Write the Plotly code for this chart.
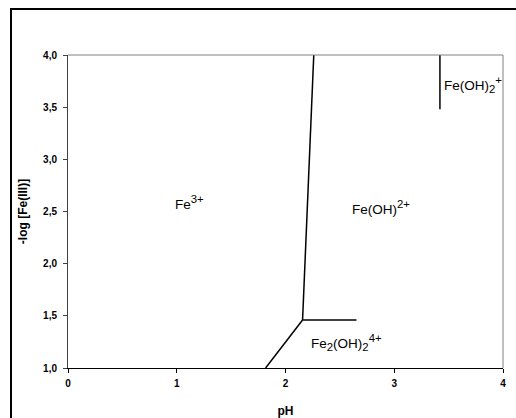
import plotly.graph_objects as go

# Boundary lines (pH, -log[Fe(III)])
b1_x = [2.157, 2.26]     # Fe3+ / Fe(OH)2+
b1_y = [1.46, 4.0]
b2_x = [1.817, 2.157]    # Fe3+ / Fe2(OH)2 4+
b2_y = [1.0, 1.46]
b3_x = [2.157, 2.653]    # Fe(OH)2+ / Fe2(OH)2 4+
b3_y = [1.46, 1.46]
b4_x = [3.42, 3.42]      # Fe(OH)2+ / Fe(OH)2 +
b4_y = [3.48, 4.0]

# Species labels
def big(s):
    return '<span style="font-size:120%">' + s + '</span>'

lab_text = ["Fe<sup>" + big("3+") + "</sup>",
            "Fe(OH)<sup>" + big("2+") + "</sup>",
            "Fe(OH)<sub>" + big("2") + "</sub><sup>" + big("+") + "</sup>",
            "Fe<sub>" + big("2") + "</sub>(OH)<sub>" + big("2") + "</sub><sup>" + big("4+") + "</sup>"]
lab_x = [1.12, 2.88, 3.44, 2.56]
lab_y = [2.59, 2.54, 3.72, 1.24]
lab_anchor = ["center", "center", "left", "center"]

xticks = [0, 1, 2, 3, 4]
xtick_text = ["0", "1", "2", "3", "4"]
yticks = [1.0, 1.5, 2.0, 2.5, 3.0, 3.5, 4.0]
ytick_text = ["1,0", "1,5", "2,0", "2,5", "3,0", "3,5", "4,0"]

FONT = "Liberation Sans, Arial"

fig = go.Figure()
for xs, ys in [(b1_x, b1_y), (b2_x, b2_y), (b3_x, b3_y), (b4_x, b4_y)]:
    fig.add_trace(go.Scatter(x=xs, y=ys, mode="lines",
                             line=dict(color="black", width=1.5),
                             showlegend=False, hoverinfo="skip"))

for t, x, y, a in zip(lab_text, lab_x, lab_y, lab_anchor):
    fig.add_annotation(x=x, y=y, text=t, showarrow=False, xanchor=a,
                       font=dict(family=FONT, size=13.5, color="black"))

W, H = 516, 418
ml, mr, mt, mb = 68, 13, 55, 50
pw, ph = W - ml - mr, H - mt - mb

def px2paper_x(px):
    return (px - ml) / pw

def px2paper_y(py):
    return (H - mb - py) / ph

# Outer chart border (clipped at right/bottom)
fig.add_shape(type="rect", xref="paper", yref="paper",
              x0=px2paper_x(11), x1=px2paper_x(525),
              y0=px2paper_y(428), y1=px2paper_y(9),
              line=dict(color="black", width=2), layer="above")
# Plot area top and right gray borders
fig.add_shape(type="line", xref="paper", yref="paper", x0=0, x1=1, y0=1, y1=1,
              line=dict(color="#808080", width=1))
fig.add_shape(type="line", xref="paper", yref="paper", x0=1, x1=1, y0=0, y1=1,
              line=dict(color="#808080", width=1))

tickfont = dict(family=FONT, size=10, color="black")
fig.update_xaxes(range=[0, 4], tickvals=xticks,
                 ticktext=["<b>%s</b>" % s for s in xtick_text],
                 showgrid=False, zeroline=False, showline=True, linecolor="black",
                 linewidth=1, ticks="outside", ticklen=4, tickcolor="black",
                 tickfont=tickfont, ticklabelstandoff=2, automargin=False,
                 title=dict(text="<b>pH</b>", standoff=24,
                            font=dict(family=FONT, size=12, color="black")))
fig.update_yaxes(range=[1, 4], tickvals=yticks,
                 ticktext=["<b>%s</b>" % s for s in ytick_text],
                 showgrid=False, zeroline=False, showline=True, linecolor="#404040",
                 linewidth=1, ticks="outside", ticklen=4, tickcolor="#404040",
                 tickfont=tickfont, ticklabelstandoff=4, automargin=False,
                 title=dict(text="<b>-log [Fe(III)]</b>", standoff=12,
                            font=dict(family=FONT, size=12, color="black")))

fig.update_layout(width=W, height=H, margin=dict(l=ml, r=mr, t=mt, b=mb),
                  plot_bgcolor="white", paper_bgcolor="white", showlegend=False)

fig.write_html("out.html")
